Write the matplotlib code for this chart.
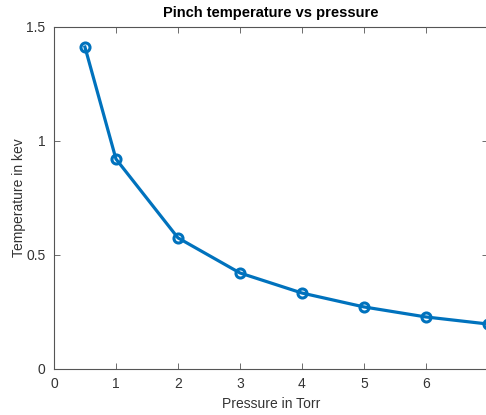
import matplotlib
matplotlib.use("Agg")
import matplotlib.pyplot as plt

# pinch temperature measurements
pressure = [0.5, 1, 2, 3, 4, 5, 6, 7]
temperature = [1.412, 0.921, 0.575, 0.421, 0.333, 0.272, 0.228, 0.197]

plt.rcParams['font.family'] = ['Liberation Sans', 'DejaVu Sans']

fig = plt.figure(figsize=(4.86, 4.15), dpi=100)
ax = fig.add_axes([0.111, 0.111, 0.893, 0.824])

ax.plot(pressure, temperature, color='#0072BD', linewidth=2.3, marker='o',
        markersize=6.5, markerfacecolor='none', markeredgewidth=2.2, clip_on=False)

ax.set_xlim(0, 7)
ax.set_ylim(0, 1.5)
ax.set_xticks([0, 1, 2, 3, 4, 5, 6])
ax.set_yticks([0, 0.5, 1, 1.5])
ax.set_yticklabels(['0', '0.5', '1', '1.5'])

for s in ax.spines.values():
    s.set_color('#555555')
    s.set_linewidth(0.8)
ax.tick_params(direction='in', top=True, right=True, length=4, width=0.6,
               colors='#555555', labelcolor='#333333', labelsize=10)
ax.tick_params(axis='x', pad=6)
ax.tick_params(axis='y', pad=6)

ax.set_xlabel('Pressure in Torr', fontsize=10, color='#333333', labelpad=4)
ax.set_ylabel('Temperature in kev', fontsize=10, color='#333333', labelpad=0)
ax.set_title('Pinch temperature vs pressure', fontsize=10.5, fontweight='bold', pad=7)

fig.savefig('out.png', dpi=100)
